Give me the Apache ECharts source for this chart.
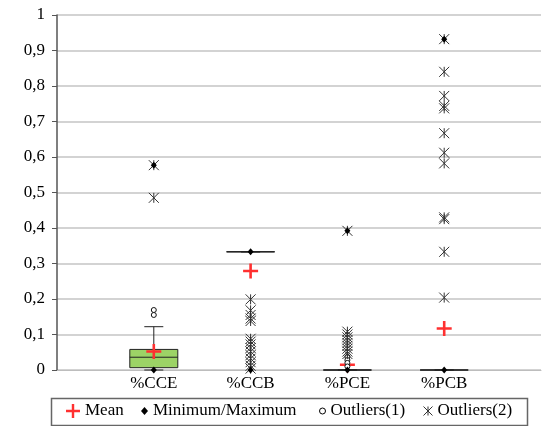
<!DOCTYPE html>
<html>
<head>
<meta charset="utf-8">
<script src="https://cdn.jsdelivr.net/npm/echarts@6/dist/echarts.min.js"></script>
<style>
html,body{margin:0;padding:0;background:#fff;}
#chart{width:547px;height:426px;}
</style>
</head>
<body>
<div id="chart"></div>
<script>
// ---- data ----
const categories = ['', '%CCE', '%CCB', '%PCE', '%PCB', ''];
const yTickLabels = ['0', '0,1', '0,2', '0,3', '0,4', '0,5', '0,6', '0,7', '0,8', '0,9', '1'];
// per category (%CCE, %CCB, %PCE, %PCB)
const boxQ1      = [0.0065, 0.333, 0, 0];
const boxMedian  = [0.036,  0.333, 0, 0];
const boxQ3      = [0.058,  0.333, 0, 0];
const whiskerLow = [0,      0.333, 0, 0];
const whiskerHigh= [0.122,  0.333, 0, 0];
const meanValues = [0.052, 0.279, 0.015, 0.117];
const minValues  = [0, 0, 0, 0];
const maxValues  = [0.577, 0.333, 0.392, 0.932];
const outliers1 = {
  '%CCE': [0.155, 0.169],
  '%CCB': [],
  '%PCE': [0.037, 0.028, 0.02, 0.01],
  '%PCB': []
};
const outliers2 = {
  '%CCE': [0.485, 0.577],
  '%CCB': [0.199, 0.168, 0.155, 0.145, 0.138, 0.088, 0.08, 0.072, 0.062, 0.052, 0.042, 0.032, 0.022, 0.012, 0.004],
  '%PCE': [0.392, 0.108, 0.1, 0.092, 0.084, 0.076, 0.068, 0.06, 0.052, 0.045],
  '%PCB': [0.932, 0.84, 0.772, 0.744, 0.737, 0.667, 0.612, 0.582, 0.43, 0.425, 0.333, 0.204]
};
const legendNames = ['Mean', 'Minimum/Maximum', 'Outliers(1)', 'Outliers(2)'];

// ---- build ----
const cats = categories.slice(1, 5);
const boxData = cats.map((c, i) => [i + 1, whiskerLow[i], boxQ1[i], boxMedian[i], boxQ3[i], whiskerHigh[i]]);
const meanData = cats.map((c, i) => [i + 1, meanValues[i]]);
const minMaxData = [];
cats.forEach((c, i) => { minMaxData.push([i + 1, minValues[i]]); minMaxData.push([i + 1, maxValues[i]]); });
const out1Data = [], out2Data = [];
cats.forEach((c, i) => {
  outliers1[c].forEach(v => out1Data.push([i + 1, v]));
  outliers2[c].forEach(v => out2Data.push([i + 1, v]));
});

const FONT = 'Liberation Serif';
const plusPath = 'path://M6.2,0H8.8V6.2H15V8.8H8.8V15H6.2V8.8H0V6.2H6.2Z';
const starPath = 'path://M0,0L10,10M10,0L0,10M5,0L5,10';
const RED = '#ff3030';

function legendAt(name, left, w, h, icon, itemStyle) {
  return {
    data: [{ name: name, icon: icon, itemStyle: itemStyle }],
    left: left, top: 401, padding: 0, itemGap: 0,
    itemWidth: w, itemHeight: h, selectedMode: false,
    textStyle: { fontFamily: FONT, fontSize: 17, color: '#000', lineHeight: 20 }
  };
}

const chart = echarts.init(document.getElementById('chart'), null, { renderer: 'canvas' });
chart.setOption({
  animation: false,
  backgroundColor: '#fff',
  grid: { left: 57, right: 6, top: 15, bottom: 56, containLabel: false },
  xAxis: {
    type: 'category', data: categories, boundaryGap: false,
    axisLine: { show: true, lineStyle: { color: '#bdbdbd', width: 1 } },
    axisTick: { show: false },
    axisLabel: { interval: 0, margin: 5, fontFamily: FONT, fontSize: 17, color: '#000' },
    splitLine: { show: false }
  },
  yAxis: {
    type: 'value', min: 0, max: 1, interval: 0.1,
    axisLine: { show: true, lineStyle: { color: '#555', width: 1.5 } },
    axisTick: { show: true, length: 5, inside: false, lineStyle: { color: '#555', width: 1 } },
    axisLabel: { margin: 12, fontFamily: FONT, fontSize: 17, color: '#000',
      formatter: (v, idx) => yTickLabels[Math.round(v * 10)] },
    splitLine: { show: true, lineStyle: { color: '#c4c4c4', width: 1.5 } }
  },
  legend: [
    legendAt('Mean', 66, 14, 14, plusPath, { color: RED, borderWidth: 0 }),
    legendAt('Minimum/Maximum', 141, 7, 8, 'diamond', { color: '#000', borderWidth: 0 }),
    legendAt('Outliers(1)', 319, 6, 6, 'circle', { color: '#fff', borderColor: '#000', borderWidth: 1 }),
    legendAt('Outliers(2)', 421, 9, 9, starPath, { color: 'none', borderColor: '#333', borderWidth: 1 })
  ],
  graphic: [{
    type: 'rect', left: 49, top: 396, silent: true, z: -1,
    shape: { width: 476, height: 27 },
    style: { fill: 'none', stroke: '#666', lineWidth: 1.5 }
  }],
  series: [
    {
      type: 'custom', name: 'box', data: boxData, z: 2,
      encode: { x: 0, y: [1, 2, 3, 4, 5] },
      renderItem: function (params, api) {
        const x = api.value(0);
        const pLo = api.coord([x, api.value(1)]);
        const pQ1 = api.coord([x, api.value(2)]);
        const pMd = api.coord([x, api.value(3)]);
        const pQ3 = api.coord([x, api.value(4)]);
        const pHi = api.coord([x, api.value(5)]);
        const half = 9.5, bh = 24;
        const st = { stroke: '#222', lineWidth: 1 };
        return {
          type: 'group',
          children: [
            { type: 'line', shape: { x1: pQ3[0], y1: pQ3[1], x2: pHi[0], y2: pHi[1] }, style: st },
            { type: 'line', shape: { x1: pHi[0] - half, y1: pHi[1], x2: pHi[0] + half, y2: pHi[1] }, style: st },
            { type: 'line', shape: { x1: pQ1[0], y1: pQ1[1], x2: pLo[0], y2: pLo[1] }, style: st },
            { type: 'line', shape: { x1: pLo[0] - half, y1: pLo[1], x2: pLo[0] + half, y2: pLo[1] }, style: st },
            { type: 'rect', shape: { x: pQ3[0] - bh, y: pQ3[1], width: 2 * bh, height: pQ1[1] - pQ3[1] },
              style: { fill: '#9cd366', stroke: '#222', lineWidth: 1 } },
            { type: 'line', shape: { x1: pMd[0] - bh, y1: pMd[1], x2: pMd[0] + bh, y2: pMd[1] }, style: st }
          ]
        };
      }
    },
    {
      type: 'scatter', name: 'Mean', data: meanData, symbol: plusPath, symbolSize: 15,
      itemStyle: { color: RED, opacity: 1 }, z: 3
    },
    {
      type: 'scatter', name: 'Outliers(1)', data: out1Data, symbol: 'circle', symbolSize: 5,
      itemStyle: { color: '#fff', borderColor: '#111', borderWidth: 1, opacity: 1 }, z: 4
    },
    {
      type: 'scatter', name: 'Outliers(2)', data: out2Data, symbol: starPath, symbolSize: 10,
      itemStyle: { color: 'none', borderColor: '#333', borderWidth: 1, opacity: 1 }, z: 4
    },
    {
      type: 'scatter', name: 'Minimum/Maximum', data: minMaxData, symbol: 'diamond', symbolSize: [6, 7],
      itemStyle: { color: '#000', opacity: 1 }, z: 5
    }
  ]
});
</script>
</body>
</html>
